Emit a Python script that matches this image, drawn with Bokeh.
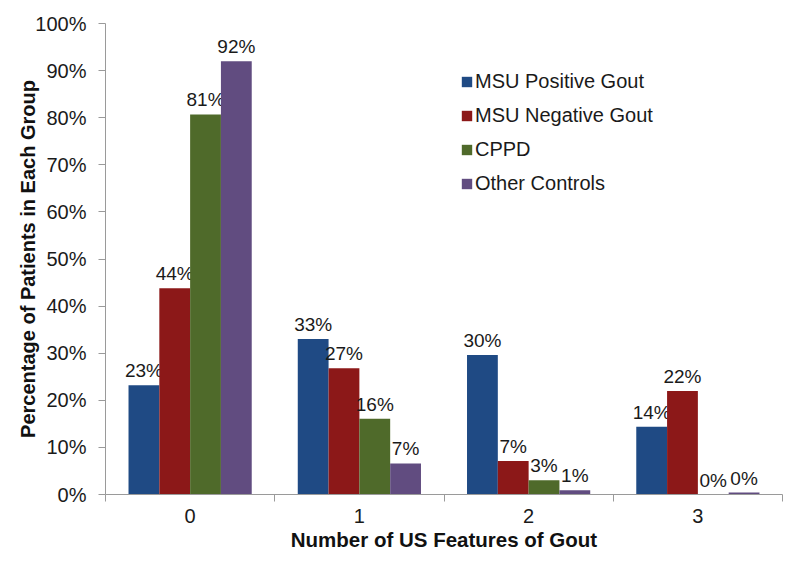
from bokeh.plotting import figure
from bokeh.models import Range1d, FixedTicker, PrintfTickFormatter, ColumnDataSource, Legend, LegendItem
from bokeh.transform import dodge
from bokeh.core.properties import value
from bokeh.embed import file_html
from bokeh.resources import INLINE

categories = ["0", "1", "2", "3"]
series_names = ["MSU Positive Gout", "MSU Negative Gout", "CPPD", "Other Controls"]
msu_positive = [23.2, 33.0, 29.6, 14.4]
msu_negative = [43.8, 26.8, 7.1, 22.0]
cppd = [80.7, 16.1, 3.0, 0.0]
other_controls = [92.0, 6.6, 0.9, 0.4]
y_ticks = [0, 10, 20, 30, 40, 50, 60, 70, 80, 90, 100]

colors = ["#1f4a84", "#8c1818", "#4f6a2a", "#614c80"]
series = [msu_positive, msu_negative, cppd, other_controls]
FONT = "Liberation Sans"

xs = list(range(len(categories)))
data = {"x": xs}
for k, vals in enumerate(series):
    data[f"s{k}"] = vals
    data[f"l{k}"] = [f"{v:.0f}%" for v in vals]
source = ColumnDataSource(data)

p = figure(width=784, height=553, output_backend="svg", toolbar_location=None,
           x_range=Range1d(-0.5, len(categories) - 0.5), y_range=Range1d(0, 100))
p.min_border_left = 105
p.min_border_right = 2
p.min_border_top = 23
p.min_border_bottom = 59
p.outline_line_color = None
p.xgrid.visible = False
p.ygrid.visible = False

bar_w = 0.182
items = []
for k, name in enumerate(series_names):
    off = (k - 1.5) * bar_w
    r = p.vbar(x=dodge("x", off), top=f"s{k}", width=bar_w, source=source,
               fill_color=colors[k], line_color=None)
    p.text(x=dodge("x", off), y=f"s{k}", text=f"l{k}", source=source,
           text_align="center", text_baseline="bottom", y_offset=-4,
           text_font=value(FONT), text_font_size="19px", text_color="#1a1a1a")
    items.append(LegendItem(label=name, renderers=[r]))

legend = Legend(items=items, location=(355, 294), border_line_color=None,
                background_fill_alpha=0, padding=0, margin=0, spacing=0,
                label_height=34, glyph_height=13, glyph_width=13, label_standoff=2,
                label_text_font=FONT, label_text_font_size="20px", label_text_color="#1a1a1a")
p.add_layout(legend, "center")

axis_color = "#9a9a9a"
xa = p.xaxis[0]
xa.ticker = FixedTicker(ticks=xs, minor_ticks=[i - 0.5 for i in range(len(categories) + 1)])
xa.major_label_overrides = {i: c for i, c in enumerate(categories)}
xa.major_tick_out = 0
xa.major_tick_in = 0
xa.minor_tick_out = 7
xa.minor_tick_in = 0
xa.minor_tick_line_color = axis_color
xa.axis_line_color = axis_color
xa.major_label_standoff = 7
xa.major_label_text_font = FONT
xa.major_label_text_font_size = "20px"
xa.major_label_text_color = "#1a1a1a"
xa.axis_label = "Number of US Features of Gout"
xa.axis_label_text_font = FONT
xa.axis_label_text_font_size = "20.5px"
xa.axis_label_text_font_style = "bold"
xa.axis_label_text_color = "#111111"
xa.axis_label_standoff = 2

ya = p.yaxis[0]
ya.ticker = FixedTicker(ticks=y_ticks, minor_ticks=[])
ya.formatter = PrintfTickFormatter(format="%d%%")
ya.major_tick_out = 7
ya.major_tick_in = 0
ya.minor_tick_out = 0
ya.minor_tick_in = 0
ya.major_tick_line_color = axis_color
ya.axis_line_color = axis_color
ya.major_label_standoff = 12
ya.major_label_text_font = FONT
ya.major_label_text_font_size = "20px"
ya.major_label_text_color = "#1a1a1a"
ya.axis_label = "Percentage of Patients in Each Group"
ya.axis_label_text_font = FONT
ya.axis_label_text_font_size = "20px"
ya.axis_label_text_font_style = "bold"
ya.axis_label_text_color = "#111111"
ya.axis_label_standoff = -7

open("out.html", "w").write(file_html(p, INLINE))
